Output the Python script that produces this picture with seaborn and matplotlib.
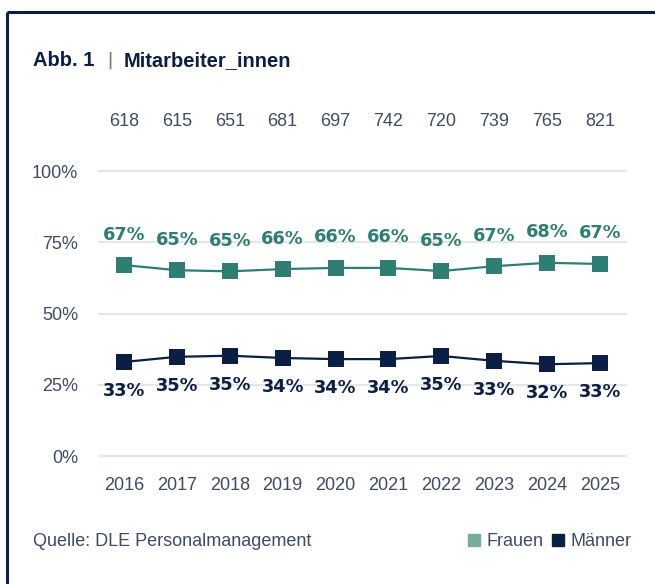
import matplotlib
matplotlib.use("Agg")
import matplotlib.pyplot as plt
import matplotlib.transforms as mtransforms
from matplotlib.lines import Line2D
import numpy as np
import pandas as pd
import seaborn as sns


YEARS = [2016, 2017, 2018, 2019, 2020, 2021, 2022, 2023, 2024, 2025]
TOTALS = [618, 615, 651, 681, 697, 742, 720, 739, 765, 821]
FRAUEN = [67.0, 65.2, 64.8, 65.6, 66.0, 66.0, 64.9, 66.6, 67.8, 67.4]
MAENNER = [33.0, 34.8, 35.2, 34.4, 34.0, 34.0, 35.1, 33.4, 32.2, 32.6]
Y_TICKS = [0, 25, 50, 75, 100]

TEAL = "#2E7E73"
TEAL_LIGHT = "#74AE98"
NAVY = "#0B1F45"
TEXT = "#3E4B66"
GRID = "#E6E6E6"

FONT = "Liberation Sans"


df = pd.DataFrame({
    "Jahr": YEARS * 2,
    "Anteil": FRAUEN + MAENNER,
    "Gruppe": ["Frauen"] * len(YEARS) + ["Männer"] * len(YEARS),
})

sns.set_theme(style="white")
plt.rcParams["font.family"] = [FONT, "DejaVu Sans"]

fig = plt.figure(figsize=(6.55, 5.84), dpi=100)
ax = fig.add_axes([0.1489, 0.2094, 0.8076, 0.5075])

sns.lineplot(
    data=df, x="Jahr", y="Anteil", hue="Gruppe", style="Gruppe",
    palette={"Frauen": TEAL, "Männer": NAVY},
    markers={"Frauen": "s", "Männer": "s"}, dashes=False,
    markersize=11, markeredgewidth=0, linewidth=1.6,
    legend=False, ax=ax, zorder=3,
)

ax.set_xlim(YEARS[0] - 0.5, YEARS[-1] + 0.5)
ax.set_ylim(-2, 102)
ax.set_yticks(Y_TICKS)
ax.set_yticklabels([f"{v}%" for v in Y_TICKS])
ax.set_xticks(YEARS)
ax.set_xticklabels([str(y) for y in YEARS])
ax.set_xlabel("")
ax.set_ylabel("")
ax.grid(axis="y", color=GRID, linewidth=1.6)
ax.grid(axis="x", visible=False)
for s in ax.spines.values():
    s.set_visible(False)
ax.tick_params(axis="both", length=0, labelcolor=TEXT, labelsize=13)
ax.tick_params(axis="y", pad=14)
ax.tick_params(axis="x", pad=11)

# percentage labels
for x, f, m in zip(YEARS, FRAUEN, MAENNER):
    ax.annotate(f"{f:.0f}%", (x, f), xytext=(0, 22), textcoords="offset points",
                ha="center", va="center", color=TEAL, fontsize=12.8,
                fontweight="bold", family="DejaVu Sans")
    ax.annotate(f"{m:.0f}%", (x, m), xytext=(0, -21), textcoords="offset points",
                ha="center", va="center", color=NAVY, fontsize=12.8,
                fontweight="bold", family="DejaVu Sans")

# headcount row above the plot
trans = mtransforms.blended_transform_factory(ax.transData, fig.transFigure)
for x, n in zip(YEARS, TOTALS):
    ax.text(x, 0.7928, str(n), transform=trans, ha="center", va="center",
            color=TEXT, fontsize=13)

# title
fig.text(0.050, 0.897, "Abb. 1", ha="left", va="center", color=NAVY,
         fontsize=14.5, fontweight="bold")
fig.text(0.168, 0.897, "|", ha="center", va="center", color="#6B7488",
         fontsize=14, fontweight="light")
fig.text(0.189, 0.897, "Mitarbeiter_innen", ha="left", va="center", color=NAVY,
         fontsize=14.5, fontweight="bold")

# source + legend
fig.text(0.050, 0.072, "Quelle: DLE Personalmanagement", ha="left", va="center",
         color=TEXT, fontsize=13)
handles = [
    Line2D([], [], linestyle="none", marker="s", markersize=8, color=TEAL_LIGHT,
           label="Frauen"),
    Line2D([], [], linestyle="none", marker="s", markersize=8, color=NAVY,
           label="Männer"),
]
leg = fig.legend(handles=handles, loc="center right", bbox_to_anchor=(0.975, 0.072),
                 ncol=2, frameon=False, handlelength=0.6, handletextpad=0.4,
                 columnspacing=0.5, fontsize=13, borderaxespad=0)
for t in leg.get_texts():
    t.set_color(TEXT)

# frame lines (top and left)
fig.add_artist(Line2D([0.0107, 1.0], [0.9795, 0.9795], transform=fig.transFigure,
                      color=NAVY, linewidth=2.2, solid_capstyle="butt"))
fig.add_artist(Line2D([0.0107, 0.0107], [0.0, 0.9795], transform=fig.transFigure,
                      color=NAVY, linewidth=2.2, solid_capstyle="butt"))

fig.savefig("out.png", dpi=100, facecolor="white")
